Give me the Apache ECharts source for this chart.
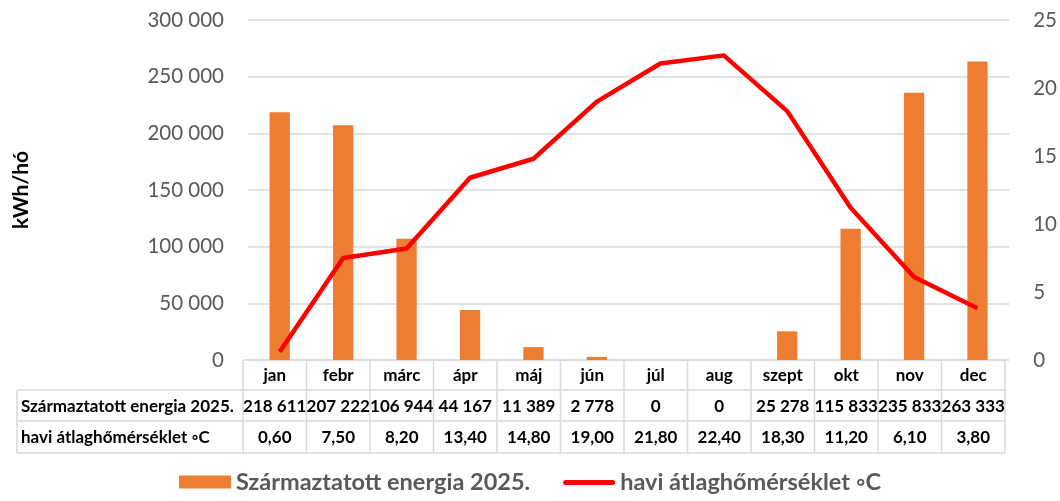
<!DOCTYPE html>
<html>
<head>
<meta charset="utf-8">
<script src="https://cdn.jsdelivr.net/npm/echarts@6/dist/echarts.min.js"></script>
<style>
html,body{margin:0;padding:0;background:#fff;}
#main{width:1060px;height:501px;}
</style>
</head>
<body>
<div id="main"></div>
<script>
var months = ['jan','febr','márc','ápr','máj','jún','júl','aug','szept','okt','nov','dec'];
var energia = [218611,207222,106944,44167,11389,2778,0,0,25278,115833,235833,263333];
var homerseklet = [0.60,7.50,8.20,13.40,14.80,19.00,21.80,22.40,18.30,11.20,6.10,3.80];
var leftTicks = [0,300000,50000];   // min, max, interval
var rightTicks = [0,25,5];
var nameEnergia = 'Származtatott energia 2025.';
var nameHom = 'havi átlaghőmérséklet ◦C';

var FONT = 'Lato, "Open Sans", sans-serif';
var gLeft = 248, gRight = 49, gTop = 20, gBottom = 141;
var tLeft = 243, tRight = 1005;
var chart = echarts.init(document.getElementById('main'));

function fmtThousand(v){
	return String(v).replace(/\B(?=(\d{3})+(?!\d))/g, ' ');
}
function fmtTemp(v){
	return v.toFixed(2).replace('.', ',');
}

//adattábla a grafikon alatt
function buildTable(){
	var els = [];
	var cw = (tRight - tLeft) / months.length;
	var rows = [360, 390, 421, 453];
	var lineStyle = {stroke:'#d9d9d9', lineWidth:1.5};
	// vízszintes vonalak
	els.push({type:'line', shape:{x1:tLeft, y1:rows[0], x2:tRight, y2:rows[0]}, style:lineStyle});
	for(var r=1;r<rows.length;r++){
		els.push({type:'line', shape:{x1:17, y1:rows[r], x2:tRight, y2:rows[r]}, style:lineStyle});
	}
	// függőleges vonalak
	for(var i=0;i<=months.length;i++){
		var x = tLeft + i*cw;
		els.push({type:'line', shape:{x1:x, y1:rows[0], x2:x, y2:rows[3]}, style:lineStyle});
	}
	els.push({type:'line', shape:{x1:17, y1:rows[1], x2:17, y2:rows[3]}, style:lineStyle});
	// fejléc: hónapok
	var hy = (rows[0]+rows[1])/2 + 1;
	for(var m=0;m<months.length;m++){
		els.push({type:'text', x:tLeft+(m+0.5)*cw, y:hy, style:{text:months[m], font:'bold 17px '+FONT, fill:'#000', verticalAlign:'middle', align:'center'}});
	}
	// sorok
	var labels = [nameEnergia, nameHom];
	var vals = [energia.map(fmtThousand), homerseklet.map(fmtTemp)];
	for(var k=0;k<2;k++){
		var cy = (rows[k+1]+rows[k+2])/2 + 1;
		els.push({type:'text', x:21, y:cy, style:{text:labels[k], font:'bold 17px '+FONT, fill:'#000', verticalAlign:'middle', align:'left'}});
		for(var j=0;j<months.length;j++){
			els.push({type:'text', x:tLeft+(j+0.5)*cw, y:cy, style:{text:vals[k][j], font:'bold 17px '+FONT, fill:'#000', verticalAlign:'middle', align:'center'}});
		}
	}
	return els;
}

var option = {
	animation:false,
	textStyle:{fontFamily:FONT},
	grid:{left:gLeft, right:gRight, top:gTop, bottom:gBottom},
	legend:{
		bottom:2,
		left:'center',
		itemWidth:52,
		itemHeight:13,
		itemGap:33,
		textStyle:{fontSize:23.5, fontWeight:'bold', color:'#595959', fontFamily:FONT},
		data:[
			{name:nameEnergia, icon:'rect'},
			{name:nameHom, icon:'path://M0,0 M2.5,4.5 L49.5,4.5 A2.5,2.5 0 0 1 49.5,9.5 L2.5,9.5 A2.5,2.5 0 0 1 2.5,4.5 Z M52,13'}
		]
	},
	xAxis:{
		type:'category',
		data:months,
		axisLine:{show:false},
		axisTick:{show:false},
		axisLabel:{show:false}
	},
	yAxis:[{
		type:'value',
		min:leftTicks[0], max:leftTicks[1], interval:leftTicks[2],
		name:'kWh/hó',
		nameLocation:'middle',
		nameRotate:90,
		nameGap:216,
		nameTextStyle:{fontSize:21, fontWeight:'bold', color:'#000'},
		axisLine:{show:false},
		axisTick:{show:false},
		axisLabel:{margin:24, fontSize:20.5, color:'#595959', formatter:fmtThousand},
		splitLine:{lineStyle:{color:'#d9d9d9', width:1.5}}
	},{
		type:'value',
		min:rightTicks[0], max:rightTicks[1], interval:rightTicks[2],
		axisLine:{show:false},
		axisTick:{show:false},
		axisLabel:{margin:24, fontSize:20.5, color:'#595959'},
		splitLine:{show:false}
	}],
	series:[{
		name:nameEnergia,
		type:'bar',
		data:energia,
		barWidth:'32%',
		itemStyle:{color:'#ED7D31'}
	},{
		name:nameHom,
		type:'line',
		yAxisIndex:1,
		data:homerseklet,
		symbol:'none',
		lineStyle:{color:'#FF0000', width:4.5},
		itemStyle:{color:'#FF0000'}
	}],
	graphic:buildTable()
};
chart.setOption(option);
</script>
</body>
</html>
